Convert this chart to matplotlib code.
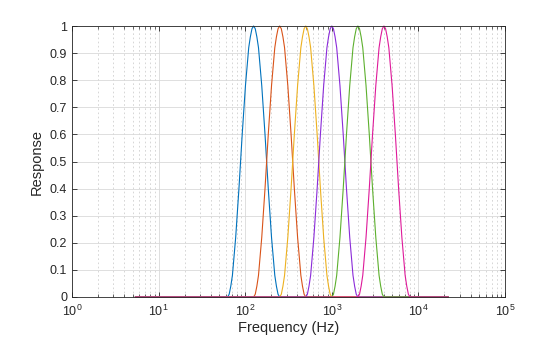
import matplotlib
matplotlib.use('Agg')
import matplotlib.pyplot as plt
from matplotlib.ticker import FixedLocator, FormatStrFormatter, LogLocator, NullFormatter
import numpy as np

plt.rcParams.update({'font.family': ['Liberation Sans', 'DejaVu Sans'], 'font.size': 9,
                     'axes.linewidth': 0.6})

# octave bands: centre frequencies (Hz)
centres = [125, 250, 500, 1000, 2000, 4000]
colors = ['#0072BD', '#D95319', '#EDB120', '#8B2BD9', '#5DB02E', '#DE1A9A']

# band response vs offset from centre, in octaves (1/16-octave steps)
offsets = [k / 16 for k in range(-16, 17)]
shape = [0.0, 0.01, 0.04, 0.08, 0.15, 0.22, 0.31, 0.40, 0.5, 0.60, 0.69, 0.78, 0.85,
         0.92, 0.96, 0.99, 1.0,
         0.99, 0.96, 0.92, 0.85, 0.78, 0.69, 0.60, 0.5, 0.40, 0.31, 0.22, 0.15,
         0.08, 0.04, 0.01, 0.0]

# frequency span of the analysis grid
f_lo, f_hi = 5.4, 22050

fig = plt.figure(figsize=(5.6, 3.37), dpi=100)
ax = fig.add_axes([0.1286, 0.1187, 0.7732, 0.8041])

for fc, c in zip(centres, colors):
    f = [f_lo] + [fc * 2.0 ** o for o in offsets] + [f_hi]
    r = [0.0] + shape + [0.0]
    ax.plot(f, r, color=c, lw=0.8, clip_on=False)

ax.set_xscale('log')
ax.set_xlim(1, 1e5)
ax.set_ylim(0, 1)
ax.yaxis.set_major_locator(FixedLocator(np.round(np.arange(0, 1.01, 0.1), 1)))
ax.yaxis.set_major_formatter(FormatStrFormatter('%g'))
ax.xaxis.set_major_locator(LogLocator(base=10, numticks=10))
ax.xaxis.set_minor_locator(LogLocator(base=10, subs=np.arange(2, 10), numticks=20))
ax.xaxis.set_minor_formatter(NullFormatter())

ax.grid(which='major', color='#d9d9d9', lw=0.6)
ax.grid(which='minor', axis='x', color='#d0d0d0', lw=0.6, ls=(0, (2, 3)))
ax.set_axisbelow(True)
ax.tick_params(which='both', direction='in', top=True, right=True, colors='#262626',
               labelsize=9)
ax.tick_params(which='major', length=3.5, width=0.6)
ax.tick_params(which='minor', length=2, width=0.5)
ax.tick_params(axis='x', which='major', pad=5)
for s in ax.spines.values():
    s.set_color('#262626')

ax.set_xlabel('Frequency (Hz)', fontsize=10.5, color='#262626', labelpad=1)
ax.set_ylabel('Response', fontsize=10.5, color='#262626', labelpad=4)

fig.savefig('out.png', dpi=100)
